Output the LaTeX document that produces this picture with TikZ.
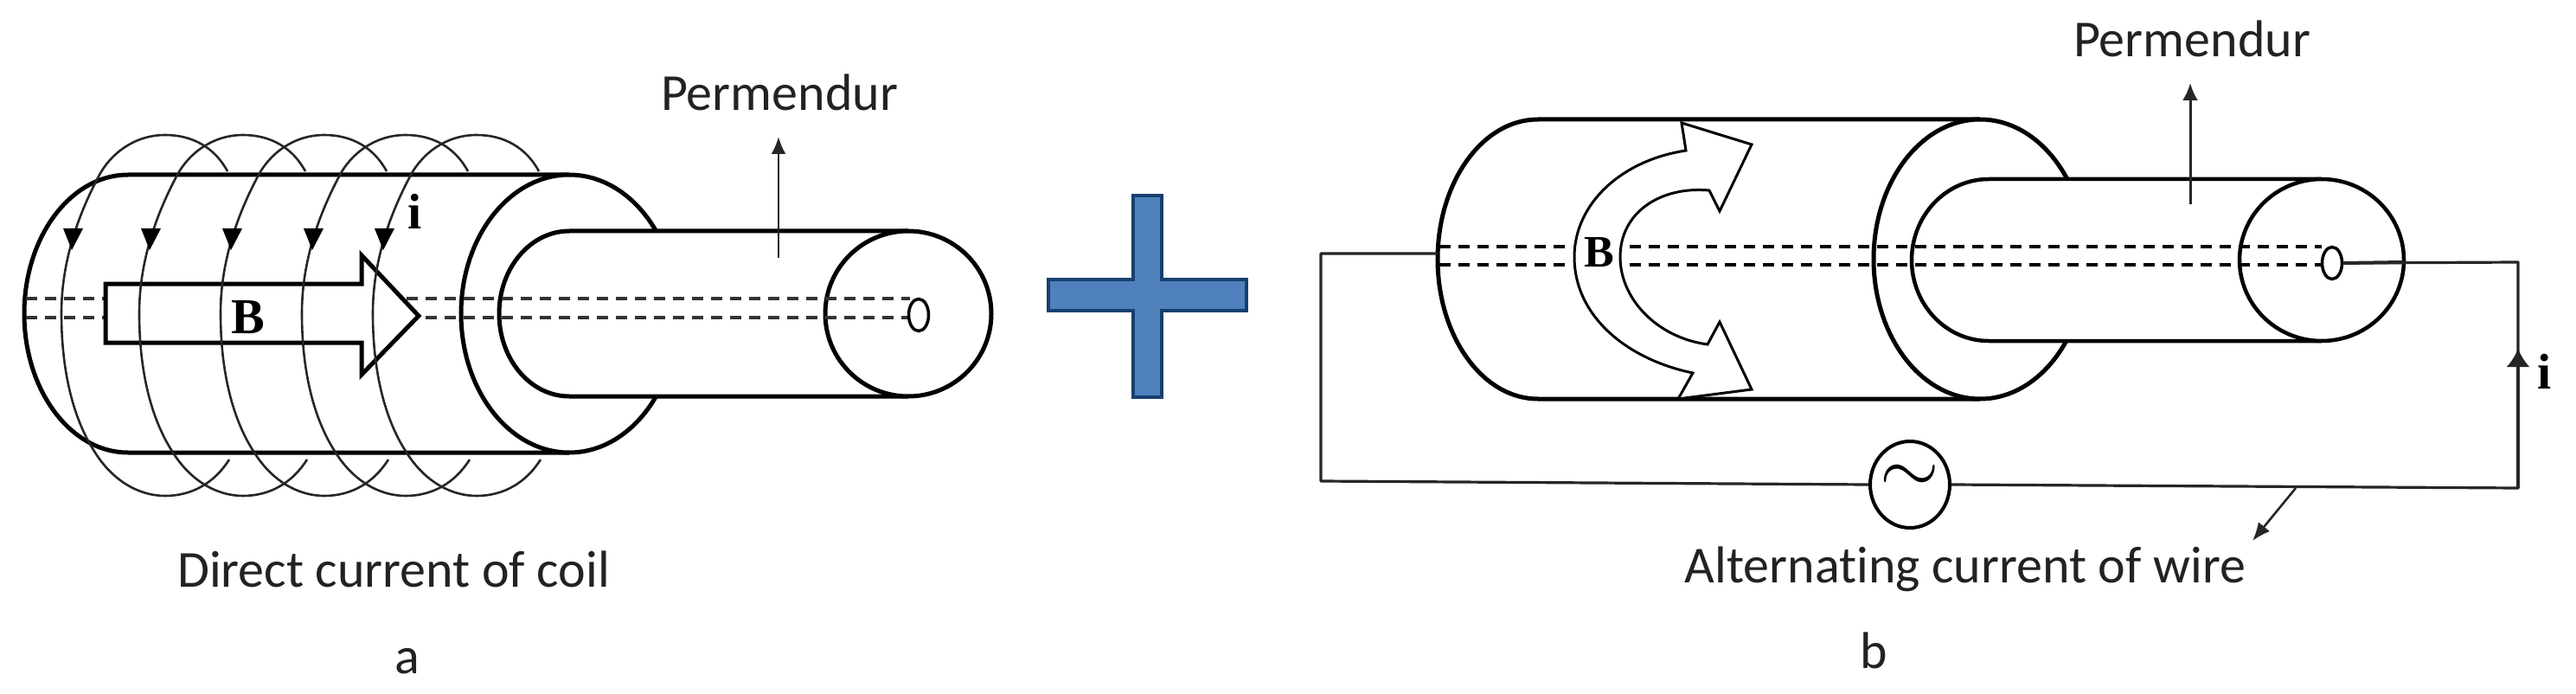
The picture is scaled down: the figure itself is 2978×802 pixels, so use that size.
\documentclass[tikz,border=0pt]{standalone}
\usepackage{fontspec}
\setmainfont{Carlito}[Ligatures=NoCommon]
\newfontfamily\boldserif{Liberation Serif}
\usetikzlibrary{arrows.meta,shapes.geometric}
\definecolor{plusfill}{HTML}{4F81BD}
\definecolor{plusedge}{HTML}{17406F}
\definecolor{labelgray}{HTML}{222222}
\tikzset{
  body/.style={line width=5pt,draw=black,fill=white},
  rim/.style={line width=5pt,draw=black,fill=white},
  axisdash/.style={line width=4pt,draw=black!80,dash pattern=on 13pt off 9pt},
  coilturn/.style={line width=2.6pt,draw=black!85},
  wire/.style={line width=3.2pt,draw=black!85,line join=round},
  thinptr/.style={line width=2.6pt,draw=black!85},
  bigarrow/.style={line width=5pt,draw=black,fill=white,line join=miter},
  curlarrow/.style={line width=3pt,draw=black,fill=white,line join=miter},
  hole/.style={ellipse,draw=black,line width=3.5pt,fill=white,inner sep=0pt,minimum width=23pt,minimum height=37pt},
  source/.style={ellipse,draw=black,line width=4pt,fill=white,inner sep=0pt,minimum width=92pt,minimum height=100pt},
  caption/.style={inner sep=0pt,anchor=base,text=labelgray,font=\fontsize{60}{62}\selectfont},
  sym/.style={inner sep=0pt,anchor=base,font=\boldserif\bfseries\fontsize{58}{60}\selectfont}
}
\begin{document}
\begin{tikzpicture}[x=1pt,y=-1pt]
\useasboundingbox (0,0) rectangle (2978,802);
\fill[white] (0,0) rectangle (2978,802);

%% ---------- Figure a ----------
\draw[body] (658,202) -- (148,202) arc[start angle=90,end angle=270,x radius=120pt,y radius=160.5pt] -- (658,523);
\draw[rim] (658,362.5) ellipse[x radius=125pt,y radius=160.5pt];
\draw[body] (1050,267) -- (658,267) arc[start angle=90,end angle=270,x radius=81pt,y radius=95.5pt] -- (1050,458);
\draw[rim] (1050,362.5) ellipse[x radius=96pt,y radius=95.5pt];
\draw[axisdash] (30,345) -- (1052,345);
\draw[axisdash] (30,367) -- (1052,367);
\node[hole] (holeA) at (1062,364) {};
\draw[bigarrow] (122,328) -- (418,328) -- (418,295) -- (484,365) -- (418,433) -- (418,396) -- (122,396) -- cycle;
\foreach \d in {0,90,184,278,360}{
  \begin{scope}[xshift=\d pt]
    \draw[coilturn] (263,198) .. controls (248,170) and (222,156) .. (191,156)
      .. controls (155,156) and (128,178) .. (115,202)
      .. controls (92,245) and (71,300) .. (71,362)
      .. controls (71,430) and (85,485) .. (110,523)
      .. controls (130,555) and (160,573) .. (191,573)
      .. controls (222,573) and (248,558) .. (265,531);
    \fill[black] (73,264) -- (96,264) -- (83,289) -- cycle;
  \end{scope}
}
\node[sym] (Ba) at (287,385) {B};
\node[sym] (ia) at (480,265) {i};
\node[caption] (permA) at (901,128) {Permendur};
\coordinate (permAfoot) at (900,298);
\coordinate (permAtip) at (900,158);
\draw[thinptr,-{Latex[length=20pt,width=17pt]}] (permAfoot) -- (permAtip);
\node[caption] (dcA) at (455,678) {Direct current of coil};
\node[caption] (labelA) at (471,778) {a};

%% ---------- Plus ----------
\draw[line width=4pt,draw=plusedge,fill=plusfill,line join=miter]
  (1310,226) -- (1343,226) -- (1343,323) -- (1441,323) -- (1441,359) -- (1343,359)
  -- (1343,459) -- (1310,459) -- (1310,359) -- (1212,359) -- (1212,323) -- (1310,323) -- cycle;

%% ---------- Figure b ----------
\draw[body] (2289,138) -- (1778,138) arc[start angle=90,end angle=270,x radius=116pt,y radius=161.5pt] -- (2289,461);
\draw[rim] (2289,299.5) ellipse[x radius=123pt,y radius=161.5pt];
\draw[body,line width=4.5pt] (2684,207) -- (2299,207) arc[start angle=90,end angle=270,x radius=89pt,y radius=93.5pt] -- (2684,394);
\draw[rim,line width=4.5pt] (2684,300.5) ellipse[x radius=95pt,y radius=93.5pt];
\draw[axisdash,draw=black] (1664,285) -- (1814,285) (1884,285) -- (2684,285);
\draw[axisdash,draw=black] (1664,306) -- (1814,306) (1884,306) -- (2684,306);
\node[hole] (holeB) at (2696,304) {};
\draw[curlarrow] (1949,174) -- (1944,142) -- (2025,167) -- (1988,244) -- (1976,220)
  .. controls (1920,215) and (1873,245) .. (1873,297)
  .. controls (1873,345) and (1915,390) .. (1974,398)
  -- (1988,372) -- (2025,450) -- (1940,461) -- (1957,431)
  .. controls (1880,415) and (1820,365) .. (1820,297)
  .. controls (1820,235) and (1875,185) .. (1949,174) -- cycle;
\node[sym,font=\boldserif\bfseries\fontsize{52}{54}\selectfont] (Bb) at (1849,308) {B};

\coordinate (wireL) at (1662,293);
\coordinate (cornerTL) at (1527,293);
\coordinate (cornerBL) at (1527,556);
\coordinate (cornerBR) at (2911,564);
\coordinate (cornerTR) at (2911,303);
\coordinate (arrowI) at (2911,403);
\node[source] (ac) at (2208,560) {};
\node[inner sep=0pt,scale=8.8] (tilde) at (2208,553) {$\sim$};
\draw[wire] (wireL) -- (cornerTL) -- (cornerBL) -- (ac.west);
\draw[wire] (ac.east) -- (cornerBR) -- (cornerTR) -- (holeB.east);
\draw[wire,line width=4pt] (holeB.east) -- (2778,303);
\draw[wire,-{Latex[length=21pt,width=27pt]}] (cornerBR) -- (arrowI);
\node[sym] (ib) at (2942,449) {i};
\node[caption] (permB) at (2534,66) {Permendur};
\coordinate (permBfoot) at (2532,236);
\coordinate (permBtip) at (2532,96);
\draw[thinptr,line width=3pt,-{Latex[length=20pt,width=18pt]}] (permBfoot) -- (permBtip);
\node[caption] (acB) at (2272,673) {Alternating current of wire};
\node[caption] (labelB) at (2166,772) {b};
\coordinate (ptrFoot) at (2654,564);
\coordinate (ptrTip) at (2604,625);
\draw[thinptr,-{Latex[length=21pt,width=17pt]}] (ptrFoot) -- (ptrTip);
\end{tikzpicture}
\end{document}
